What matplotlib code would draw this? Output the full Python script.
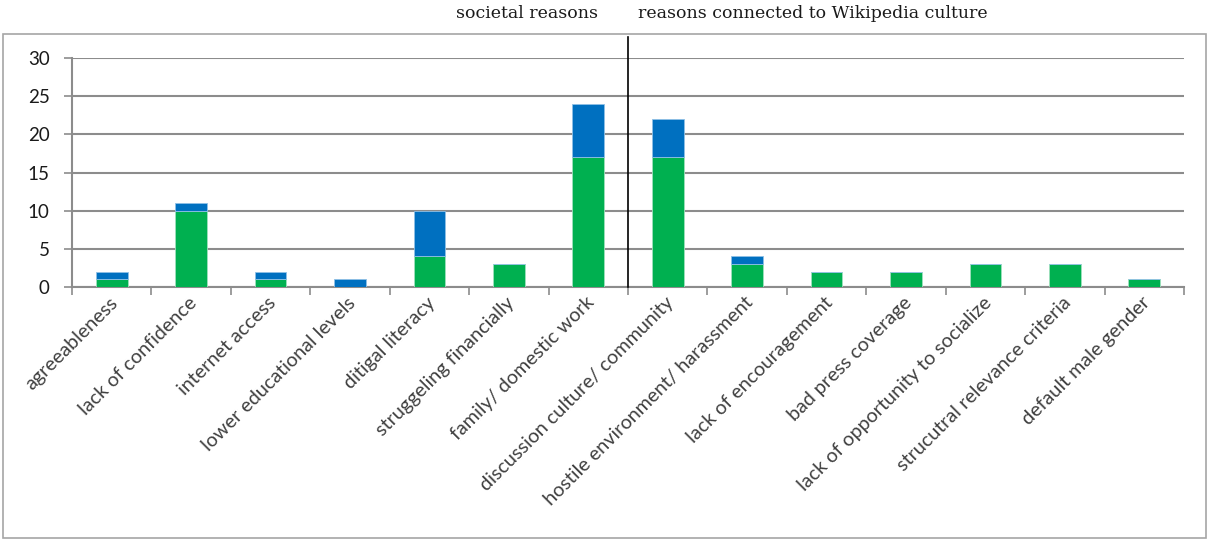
import matplotlib.pyplot as plt
import matplotlib.patches as mpatches
import matplotlib.transforms as mtrans
import numpy as np

categories = ['agreeableness', 'lack of confidence', 'internet access',
              'lower educational levels', 'ditigal literacy', 'struggeling financially',
              'family/ domestic work', 'discussion culture/ community',
              'hostile environment/ harassment', 'lack of encouragement',
              'bad press coverage', 'lack of opportunity to socialize',
              'strucutral relevance criteria', 'default male gender']
green_vals = [1, 10, 1, 0, 4, 3, 17, 17, 3, 2, 2, 3, 3, 1]
blue_vals = [1, 1, 1, 1, 6, 0, 7, 5, 1, 0, 0, 0, 0, 0]
group_left = 'societal reasons'
group_right = 'reasons connected to Wikipedia culture'

W, H = 1208, 540
fig = plt.figure(figsize=(W / 100, H / 100), dpi=100)
ax = fig.add_axes([72 / W, (H - 287) / H, (1184 - 72) / W, (287 - 58) / H])

# outer chart border
fig.patches.append(mpatches.Rectangle((3 / W, 2 / H), 1203 / W, 504 / H,
                                      transform=fig.transFigure, fill=False,
                                      edgecolor='#a6a6a6', linewidth=1.2))

x = np.arange(len(categories))
ax.bar(x, green_vals, width=0.4, color='#00B050', edgecolor='#9fe0bd', linewidth=0.6, zorder=3)
ax.bar(x, blue_vals, width=0.4, bottom=green_vals, color='#0070C0', edgecolor='#8fc0e6',
       linewidth=0.6, zorder=3)

ax.set_xlim(-0.5, len(categories) - 0.5)
ax.set_ylim(0, 30)
ax.set_yticks(range(0, 31, 5))
ax.grid(axis='y', color='#8c8c8c', linewidth=1.5, zorder=0)
for s in ['top', 'right']:
    ax.spines[s].set_visible(False)
ax.spines['left'].set_color('#8c8c8c')
ax.spines['bottom'].set_color('#8c8c8c')
ax.spines['left'].set_linewidth(1.5)
ax.spines['bottom'].set_linewidth(1.5)

ax.set_xticks(np.arange(-0.5, len(categories), 1.0))
ax.set_xticklabels([])
ax.set_xticks(x, minor=True)
ax.set_xticklabels(categories, minor=True, rotation=45, ha='right', va='top',
                   rotation_mode='anchor', fontsize=14.2, family='Lato', color='#404040')
ax.tick_params(axis='x', which='major', length=6, color='#8c8c8c', width=1.2)
ax.tick_params(axis='x', which='minor', length=0, pad=5)
ax.tick_params(axis='y', length=6, color='#8c8c8c', width=1.2, labelsize=13.5, pad=10)
for t in ax.get_yticklabels():
    t.set_family('Lato')
    t.set_color('#1a1a1a')
# nudge x labels so their ends sit near the bar centre
off = mtrans.ScaledTranslation(-3 / 100, 0, fig.dpi_scale_trans)
for t in ax.get_xticklabels(minor=True):
    t.set_transform(t.get_transform() + off)

# divider between groups
ax.axvline(6.5, 0, 32.75 / 30, color='black', linewidth=1.2, clip_on=False, zorder=4)

fig.text(598 / W, (H - 14) / H, group_left, ha='right', va='center',
         family='DejaVu Serif', fontsize=12.5, color='#1a1a1a')
fig.text(638 / W, (H - 14) / H, group_right, ha='left', va='center',
         family='DejaVu Serif', fontsize=12.5, color='#1a1a1a')

fig.savefig('out.png', dpi=100)
